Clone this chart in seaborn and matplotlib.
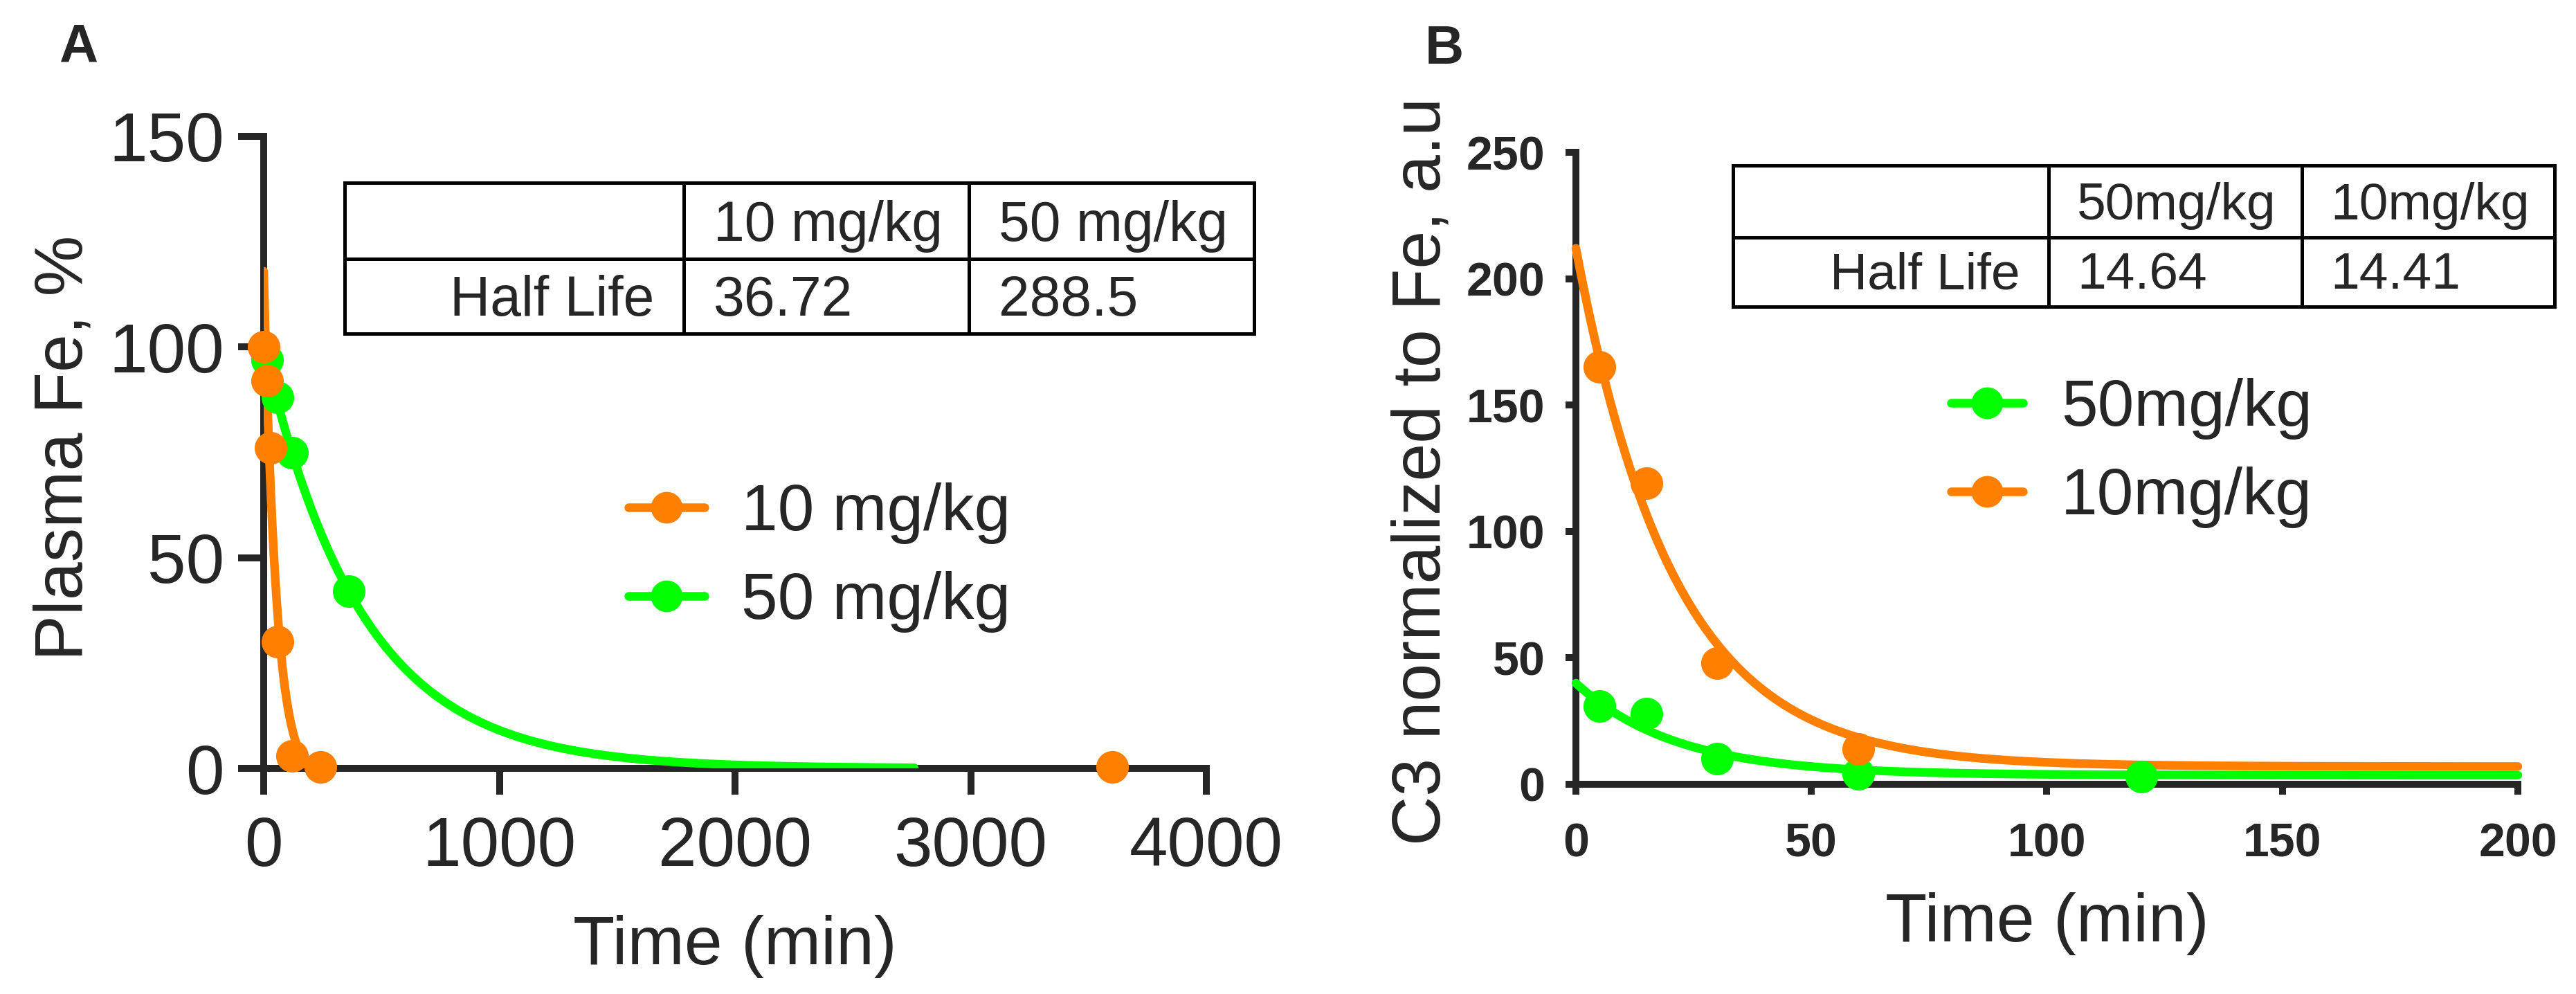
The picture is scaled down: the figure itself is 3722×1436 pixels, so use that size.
import numpy as np
import pandas as pd
import matplotlib
matplotlib.use('Agg')
import matplotlib.pyplot as plt
import seaborn as sns
from matplotlib.lines import Line2D

# ---- panel A : plasma Fe, % ----
a_time_10 = [0, 15, 30, 60, 120, 240, 3600]
a_fe_10 = [100, 92, 76, 30, 3, 0.3, 0.3]
a_time_50 = [15, 60, 120, 360]
a_fe_50 = [97, 88, 75, 42]
a_doses = ['10 mg/kg', '50 mg/kg']
a_half_life = [36.72, 288.5]
# one phase decay fit: Y0, plateau, last x of the curve
a_fit_10 = [118, -3, 200]
a_fit_50 = [100, 0, 2760]

# ---- panel B : C3 normalized to Fe ----
b_time_50 = [5, 15, 30, 60, 120]
b_c3_50 = [31, 28, 10, 4, 3]
b_time_10 = [5, 15, 30, 60]
b_c3_10 = [165, 119, 48, 14]
b_doses = ['50mg/kg', '10mg/kg']
b_half_life = [14.64, 14.41]
b_fit_50 = [40, 3.6, 200]
b_fit_10 = [212, 7, 200]

ORANGE = '#FF8000'
GREEN = '#00FF00'
W, H = 3723, 1436

sns.set_style('ticks')
plt.rcParams['font.family'] = ['Liberation Sans', 'DejaVu Sans']


def decay_curve(fit, half_life):
    y0, plateau, x_end = fit
    t = np.linspace(0, x_end, 500)
    return pd.DataFrame({'t': t, 'y': plateau + (y0 - plateau) * 0.5 ** (t / half_life)})


def fx(x):
    return x / W


def fy(y):
    return 1 - y / H


def draw_table(fig, xs, ys, header, row, size, pad):
    for x in xs:
        fig.add_artist(Line2D([fx(x)] * 2, [fy(ys[0]), fy(ys[-1])], transform=fig.transFigure,
                              color='black', lw=3.6, solid_capstyle='projecting'))
    for y in ys:
        fig.add_artist(Line2D([fx(xs[0]), fx(xs[-1])], [fy(y)] * 2, transform=fig.transFigure,
                              color='black', lw=3.6, solid_capstyle='projecting'))
    base1 = ys[1] - 26
    base2 = ys[2] - 26
    for i, h in enumerate(header):
        fig.text(fx(xs[i + 1] + pad), fy(base1), h, fontsize=size, va='baseline', ha='left')
    fig.text(fx(xs[1] - pad), fy(base2), row[0], fontsize=size, va='baseline', ha='right')
    for i, v in enumerate(row[1:]):
        fig.text(fx(xs[i + 1] + pad), fy(base2), v, fontsize=size, va='baseline', ha='left')


def style_axes(ax, spine_lw, tick_len, xpad, ypad, tick_size, bold):
    sns.despine(ax=ax)
    for s in ['left', 'bottom']:
        ax.spines[s].set_linewidth(spine_lw)
        ax.spines[s].set_zorder(2.5)
    ax.tick_params(axis='both', direction='out', length=tick_len, width=spine_lw,
                   labelsize=tick_size)
    ax.tick_params(axis='x', pad=xpad)
    ax.tick_params(axis='y', pad=ypad)
    for lab in ax.get_xticklabels() + ax.get_yticklabels():
        lab.set_fontweight('bold' if bold else 'normal')


def place_legend(fig, ax, handles, labels, text_left, baselines, fontsize, hlen, hpad):
    # position the legend so its labels sit on the wanted baselines (pixels from top-left)
    fs_px = fontsize * fig.dpi / 72
    ls = 0.35
    ax_x, ax_y = text_left - (hlen + hpad) * fs_px, baselines[0] - 70
    for _ in range(4):
        leg = ax.legend(handles, labels, loc='upper left', bbox_to_anchor=(fx(ax_x), fy(ax_y)),
                        bbox_transform=fig.transFigure, frameon=False, borderpad=0,
                        borderaxespad=0, handlelength=hlen, handletextpad=hpad,
                        labelspacing=ls, fontsize=fontsize)
        fig.canvas.draw()
        rend = fig.canvas.get_renderer()
        texts = leg.get_texts()
        d = rend.get_text_width_height_descent('lp', texts[0].get_fontproperties(), False)[2]
        bbs = [t.get_window_extent(rend) for t in texts]
        base = [H - (bb.y0 + d) for bb in bbs]
        ax_x += text_left - bbs[0].x0
        ax_y += baselines[0] - base[0]
        ls += ((baselines[1] - baselines[0]) - (base[1] - base[0])) / fs_px
    return leg


fig = plt.figure(figsize=(W / 100, H / 100), dpi=100)
ax_a = fig.add_axes([fx(381), fy(1110), (1743 - 381) / W, (1110 - 197) / H])
ax_b = fig.add_axes([fx(2277), fy(1133), (3638 - 2277) / W, (1133 - 220) / H])

LW = 9
MS = 1150

# panel A
sns.lineplot(data=decay_curve(a_fit_50, a_half_life[1]), x='t', y='y', ax=ax_a, color=GREEN,
             lw=LW, solid_capstyle='round', zorder=3)
sns.lineplot(data=decay_curve(a_fit_10, a_half_life[0]), x='t', y='y', ax=ax_a, color=ORANGE,
             lw=LW, solid_capstyle='round', zorder=3)
sns.scatterplot(x=a_time_50, y=a_fe_50, ax=ax_a, color=GREEN, s=MS, linewidth=0,
                zorder=4, clip_on=False, legend=False)
sns.scatterplot(x=a_time_10, y=a_fe_10, ax=ax_a, color=ORANGE, s=MS, linewidth=0,
                zorder=5, clip_on=False, legend=False)
ax_a.set_xlim(0, 4000)
ax_a.set_ylim(0, 150)
ax_a.set_xticks([0, 1000, 2000, 3000, 4000])
ax_a.set_yticks([0, 50, 100, 150])
style_axes(ax_a, 7.2, 27, 22, 14, 72, False)
ax_a.set_xlabel('Time (min)', fontsize=71)
ax_a.set_ylabel('Plasma Fe, %', fontsize=71)
ax_a.xaxis.set_label_coords(0.5, -0.232)
ax_a.yaxis.set_label_coords(-0.178, 0.507)

# panel B
sns.lineplot(data=decay_curve(b_fit_50, b_half_life[0]), x='t', y='y', ax=ax_b, color=GREEN,
             lw=LW, solid_capstyle='round', zorder=3, clip_on=False)
sns.lineplot(data=decay_curve(b_fit_10, b_half_life[1]), x='t', y='y', ax=ax_b, color=ORANGE,
             lw=LW, solid_capstyle='round', zorder=3, clip_on=False)
sns.scatterplot(x=b_time_50, y=b_c3_50, ax=ax_b, color=GREEN, s=MS, linewidth=0,
                zorder=4, clip_on=False, legend=False)
sns.scatterplot(x=b_time_10, y=b_c3_10, ax=ax_b, color=ORANGE, s=MS, linewidth=0,
                zorder=5, clip_on=False, legend=False)
ax_b.set_xlim(0, 200)
ax_b.set_ylim(0, 250)
ax_b.set_xticks([0, 50, 100, 150, 200])
ax_b.set_yticks([0, 50, 100, 150, 200, 250])
style_axes(ax_b, 7.2, 11, 28, 21, 49, True)
ax_b.set_xlabel('Time (min)', fontsize=71)
ax_b.set_ylabel('C3 normalized to Fe, a.u', fontsize=71)
ax_b.xaxis.set_label_coords(0.5, -0.171)
ax_b.yaxis.set_label_coords(-0.130, 0.495)

# half life tables
draw_table(fig, [498, 988, 1400, 1812], [264, 374, 482], a_doses,
           ['Half Life'] + [f'{v:g}' for v in a_half_life], 58, 43)
draw_table(fig, [2504, 2960, 3326, 3691], [239, 343, 443], b_doses,
           ['Half Life'] + [f'{v:g}' for v in b_half_life], 54, 41)

# panel letters
fig.text(fx(113), fy(69), 'A', fontsize=56, fontweight='bold', ha='center', va='center')
fig.text(fx(2087), fy(71), 'B', fontsize=56, fontweight='bold', ha='center', va='center')

# legends
handles_a = [Line2D([], [], color=ORANGE, lw=LW, marker='o', markersize=33, markeredgewidth=0),
             Line2D([], [], color=GREEN, lw=LW, marker='o', markersize=33, markeredgewidth=0)]
place_legend(fig, ax_a, handles_a, a_doses, 1071, [766, 894], 68, 1.17, 0.56)
handles_b = [Line2D([], [], color=GREEN, lw=LW, marker='o', markersize=33, markeredgewidth=0),
             Line2D([], [], color=ORANGE, lw=LW, marker='o', markersize=33, markeredgewidth=0)]
place_legend(fig, ax_b, handles_b, b_doses, 2978, [615, 743], 68, 1.1, 0.58)

fig.savefig('out.png', dpi=100)
